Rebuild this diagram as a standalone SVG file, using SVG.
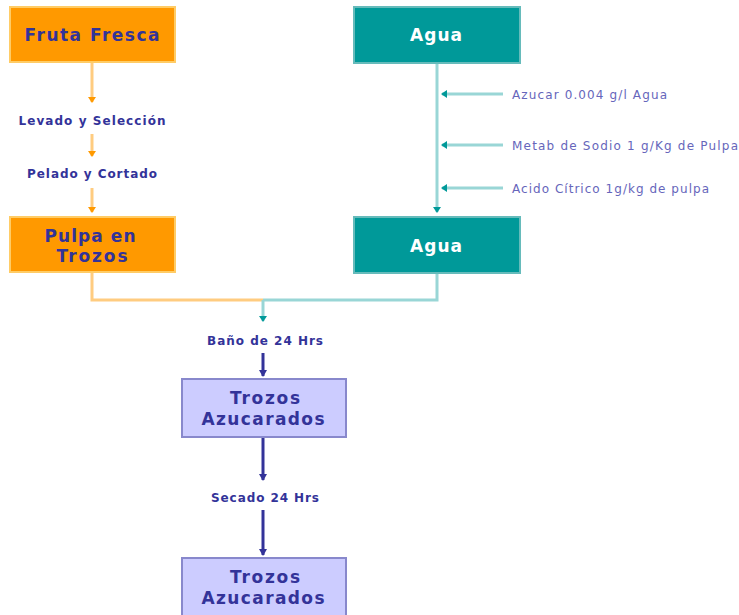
<svg xmlns="http://www.w3.org/2000/svg" width="739" height="615" viewBox="0 0 739 615">
<style>
.t{font-family:"DejaVu Sans",Verdana,sans-serif;font-weight:bold;text-anchor:middle}
.big{font-size:17px;fill:#333399}
.w{font-size:17px;fill:#ffffff}
.sm{font-size:12px;fill:#333399}
.side{font-family:"DejaVu Sans",Verdana,sans-serif;font-size:12px;fill:#6666bb}
.org{fill:#ff9900;stroke:#ffcc66;stroke-width:2}
.teal{fill:#009999;stroke:#66bbbb;stroke-width:2}
.lav{fill:#ccccff;stroke:#8888cc;stroke-width:2}
.lo{stroke:#ffcc80;stroke-width:3;fill:none}
.lt{stroke:#99d6d6;stroke-width:3;fill:none}
.ln{stroke:#333399;stroke-width:3;fill:none}
</style>
<defs>
<marker id="ao" markerWidth="8" markerHeight="6" refX="4" refY="5" markerUnits="userSpaceOnUse" viewBox="0 0 8 6"><path d="M0,0 L8,0 L4,6 z" fill="#ff9900"/></marker>
<marker id="at" markerWidth="8" markerHeight="6" refX="4" refY="5" markerUnits="userSpaceOnUse" viewBox="0 0 8 6"><path d="M0,0 L8,0 L4,6 z" fill="#009999"/></marker>
<marker id="ah" markerWidth="6" markerHeight="8" refX="1" refY="4" markerUnits="userSpaceOnUse" viewBox="0 0 6 8"><path d="M6,0 L6,8 L0,4 z" fill="#009999"/></marker>
<marker id="an" markerWidth="8" markerHeight="7" refX="4" refY="6" markerUnits="userSpaceOnUse" viewBox="0 0 8 7"><path d="M0,0 L8,0 L4,7 z" fill="#333399"/></marker>
</defs>
<g id="connectors">
<line class="lo" x1="92" y1="63" x2="92" y2="102" marker-end="url(#ao)"/>
<line class="lo" x1="92" y1="134" x2="92" y2="156" marker-end="url(#ao)"/>
<line class="lo" x1="92" y1="188" x2="92" y2="212" marker-end="url(#ao)"/>
<polyline class="lo" points="92,273 92,300 263,300"/>
<polyline class="lt" points="437,273 437,300 263,300"/>
<line class="lt" x1="263" y1="300" x2="263" y2="321" marker-end="url(#at)"/>
<line class="lt" x1="437" y1="63" x2="437" y2="212" marker-end="url(#at)"/>
<line class="lt" x1="503" y1="94" x2="442" y2="94" marker-end="url(#ah)"/>
<line class="lt" x1="503" y1="145" x2="442" y2="145" marker-end="url(#ah)"/>
<line class="lt" x1="503" y1="188" x2="442" y2="188" marker-end="url(#ah)"/>
<line class="ln" x1="263" y1="353" x2="263" y2="376" marker-end="url(#an)"/>
<line class="ln" x1="263" y1="438" x2="263" y2="480" marker-end="url(#an)"/>
<line class="ln" x1="263" y1="510" x2="263" y2="555" marker-end="url(#an)"/>
</g>
<g id="fruta"><rect class="org" x="10" y="7" width="165" height="55"/><text class="t big" x="92" y="41" textLength="135" lengthAdjust="spacing">Fruta Fresca</text></g>
<g id="lavado"><text class="t sm" x="92" y="125" textLength="147" lengthAdjust="spacing">Levado y Selección</text></g>
<g id="pelado"><text class="t sm" x="92" y="178" textLength="130" lengthAdjust="spacing">Pelado y Cortado</text></g>
<g id="pulpa"><rect class="org" x="10" y="217" width="165" height="55"/><text class="t big" x="90" y="242" textLength="91" lengthAdjust="spacing">Pulpa en</text><text class="t big" x="92" y="262" textLength="71" lengthAdjust="spacing">Trozos</text></g>
<g id="agua1"><rect class="teal" x="354" y="7" width="166" height="56"/><text class="t w" x="436" y="41" textLength="52" lengthAdjust="spacing">Agua</text></g>
<g id="agua2"><rect class="teal" x="354" y="217" width="166" height="56"/><text class="t w" x="436" y="252" textLength="52" lengthAdjust="spacing">Agua</text></g>
<g id="azucar"><text class="side" x="512" y="99" textLength="155" lengthAdjust="spacing">Azucar 0.004 g/l Agua</text></g>
<g id="metab"><text class="side" x="512" y="150" textLength="226" lengthAdjust="spacing">Metab de Sodio 1  g/Kg de Pulpa</text></g>
<g id="acido"><text class="side" x="512" y="193" textLength="197" lengthAdjust="spacing">Acido Cítrico 1g/kg de pulpa</text></g>
<g id="bano"><text class="t sm" x="265" y="345" textLength="116" lengthAdjust="spacing">Baño de 24 Hrs</text></g>
<g id="trozos1"><rect class="lav" x="182" y="379" width="164" height="58"/><text class="t big" x="265" y="404" textLength="70" lengthAdjust="spacing">Trozos</text><text class="t big" x="263" y="425" textLength="123" lengthAdjust="spacing">Azucarados</text></g>
<g id="secado"><text class="t sm" x="265" y="502" textLength="108" lengthAdjust="spacing">Secado 24 Hrs</text></g>
<g id="trozos2"><rect class="lav" x="182" y="558" width="164" height="58"/><text class="t big" x="265" y="583" textLength="70" lengthAdjust="spacing">Trozos</text><text class="t big" x="263" y="604" textLength="123" lengthAdjust="spacing">Azucarados</text></g>
</svg>
